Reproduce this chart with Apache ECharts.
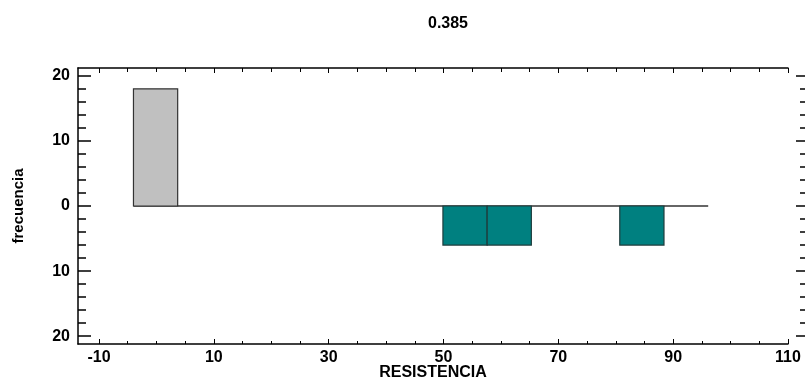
<!DOCTYPE html>
<html>
<head>
<meta charset="utf-8">
<script src="https://cdn.jsdelivr.net/npm/echarts@6/dist/echarts.min.js"></script>
<style>
  html, body { margin: 0; padding: 0; background: #fff; }
  #chart { width: 805px; height: 381px; }
</style>
</head>
<body>
<div id="chart"></div>
<script>
  // histograma superior (gris): [desde, hasta, frecuencia]
  const upperBins = [[-4.0, 3.7, 18]];
  // histograma inferior (verde azulado), frecuencias dibujadas hacia abajo
  const lowerBins = [[49.9, 57.6, 6], [57.6, 65.3, 6], [80.7, 88.4, 6]];
  // linea base
  const baseLine = [[-4.0, 0], [96.1, 0]];
  const xMajor = [-10, 10, 30, 50, 70, 90, 110];
  const xMinor = [-5, 0, 5, 15, 20, 25, 35, 40, 45, 55, 60, 65, 75, 80, 85, 95, 100, 105];
  const yMajor = [-20, -10, 0, 10, 20];
  const yMinor = [-18, -16, -14, -12, -8, -6, -4, -2, 2, 4, 6, 8, 12, 14, 16, 18];
  const titleText = '0.385';
  const xName = 'RESISTENCIA';
  const yName = 'frecuencia';

  const X_MIN = -13.66, X_MAX = 110, Y_MIN = -21.2, Y_MAX = 21.2;
  const font = 'Liberation Sans';

  function xAx(pos, ticks, len, opts) {
    return Object.assign({
      type: 'value', position: pos, min: X_MIN, max: X_MAX,
      axisLine: { show: false, onZero: false },
      axisTick: { show: true, inside: true, length: len, customValues: ticks,
                  lineStyle: { color: '#000', width: 1 } },
      axisLabel: { show: false },
      splitLine: { show: false }
    }, opts || {});
  }
  function yAx(pos, ticks, len, opts) {
    return Object.assign({
      type: 'value', position: pos, min: Y_MIN, max: Y_MAX,
      axisLine: { show: false, onZero: false },
      axisTick: { show: true, inside: true, length: len, customValues: ticks,
                  lineStyle: { color: '#000', width: 1.5 } },
      axisLabel: { show: false },
      splitLine: { show: false }
    }, opts || {});
  }

  function histo(color, stroke, sign) {
    return function (params, api) {
      const p0 = api.coord([api.value(0), 0]);
      const p1 = api.coord([api.value(1), sign * api.value(2)]);
      return {
        type: 'rect',
        shape: { x: p0[0], y: Math.min(p0[1], p1[1]), width: p1[0] - p0[0], height: Math.abs(p1[1] - p0[1]) },
        style: { fill: color, stroke: stroke, lineWidth: 1.2 }
      };
    };
  }

  const chart = echarts.init(document.getElementById('chart'));
  const lbl = { fontFamily: font, fontSize: 16, fontWeight: 'bold', color: '#000' };
  const option = {
    animation: false,
    title: {
      text: titleText, left: 443, top: 11, textAlign: 'center',
      textStyle: { fontFamily: font, fontSize: 16, fontWeight: 'bold', color: '#000' }
    },
    grid: { left: 78, right: 17, top: 68, bottom: 37, containLabel: false, outerBoundsMode: 'none' },
    xAxis: [
      xAx('bottom', xMajor, 5, {
        axisLine: { show: true, onZero: false, lineStyle: { color: '#000', width: 1.5 } },
        axisLabel: Object.assign({ show: true, customValues: xMajor, margin: 6 }, lbl),
        name: xName, nameLocation: 'middle', nameGap: 21, nameMoveOverlap: false,
        nameTextStyle: { fontFamily: font, fontSize: 16, fontWeight: 'bold', color: '#000' }
      }),
      xAx('bottom', xMinor, 3),
      xAx('top', xMajor, 5, { axisLine: { show: true, onZero: false, lineStyle: { color: '#000', width: 1.5 } } }),
      xAx('top', xMinor, 4)
    ],
    yAxis: [
      yAx('left', yMajor, 13, {
        axisLine: { show: true, onZero: false, lineStyle: { color: '#000', width: 1.5 } },
        axisLabel: Object.assign({ show: true, customValues: yMajor, margin: 8,
                     formatter: function (v) { return String(Math.abs(v)); } }, lbl),
        name: yName, nameLocation: 'middle', nameGap: 52, nameRotate: 90, nameMoveOverlap: false,
        nameTextStyle: { fontFamily: font, fontSize: 15, fontWeight: 'bold', color: '#000' }
      }),
      yAx('left', yMinor, 8),
      yAx('right', yMajor, 9, { offset: 17 }),
      yAx('right', yMinor, 5, { offset: 17 })
    ],
    series: [
      {
        type: 'line', data: baseLine, symbol: 'none',
        lineStyle: { color: '#333', width: 1.5 }, z: 1
      },
      {
        type: 'custom', data: upperBins, renderItem: histo('#c0c0c0', '#333', 1),
        encode: { x: [0, 1], y: 2 }, z: 2
      },
      {
        type: 'custom', data: lowerBins, renderItem: histo('#008080', '#1e3c3c', -1),
        encode: { x: [0, 1], y: 2 }, z: 2
      }
    ]
  };
  chart.setOption(option);
</script>
</body>
</html>
